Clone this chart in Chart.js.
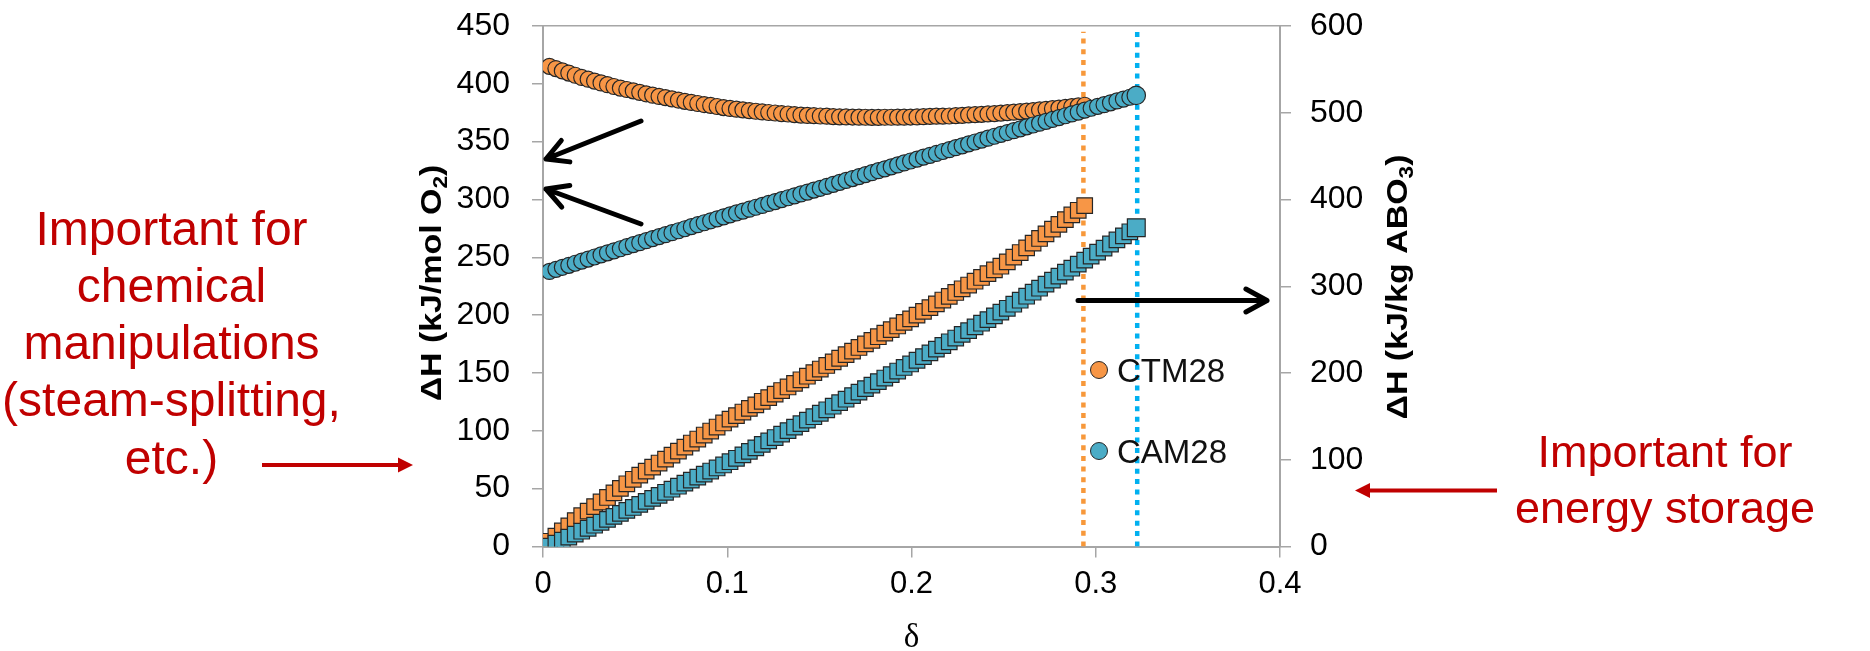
<!DOCTYPE html>
<html>
<head>
<meta charset="utf-8">
<script src="https://cdn.jsdelivr.net/npm/chart.js@4.4.1/dist/chart.umd.min.js"></script>
<style>
  html, body { margin: 0; padding: 0; background: #fff; }
  #wrap { position: relative; width: 1870px; height: 651px; }
</style>
</head>
<body>
<div id="wrap"><canvas id="chart"></canvas></div>
<script>
// oxygen non-stoichiometry (delta) at each measured point
const delta = [
  0.0035, 0.007, 0.0105, 0.014, 0.0175, 0.021, 0.0245, 0.028, 0.0315, 0.035,
  0.0385, 0.042, 0.0455, 0.049, 0.0525, 0.056, 0.0595, 0.063, 0.0665, 0.07,
  0.0735, 0.077, 0.0805, 0.084, 0.0875, 0.091, 0.0945, 0.098, 0.1015, 0.105,
  0.1085, 0.112, 0.1155, 0.119, 0.1225, 0.126, 0.1295, 0.133, 0.1365, 0.14,
  0.1435, 0.147, 0.1505, 0.154, 0.1575, 0.161, 0.1645, 0.168, 0.1715, 0.175,
  0.1785, 0.182, 0.1855, 0.189, 0.1925, 0.196, 0.1995, 0.203, 0.2065, 0.21,
  0.2135, 0.217, 0.2205, 0.224, 0.2275, 0.231, 0.2345, 0.238, 0.2415, 0.245,
  0.2485, 0.252, 0.2555, 0.259, 0.2625, 0.266, 0.2695, 0.273, 0.2765, 0.28,
  0.2835, 0.287, 0.2905, 0.294, 0.2975, 0.301, 0.3045, 0.308, 0.3115, 0.315,
  0.3185, 0.322
];

// dH in kJ/mol O2 (left axis, circles)
const ctmMolO2 = [
  415.1, 413.2, 411.2, 409.3, 407.4, 405.5, 404.0, 402.4, 400.8, 399.3,
  397.7, 396.3, 395.1, 393.9, 392.6, 391.4, 390.2, 389.1, 388.1, 387.0,
  386.0, 384.9, 383.9, 383.0, 382.1, 381.3, 380.4, 379.5, 378.7, 378.1,
  377.5, 376.9, 376.3, 375.7, 375.2, 374.8, 374.3, 373.9, 373.4, 373.0,
  372.7, 372.5, 372.2, 372.0, 371.7, 371.5, 371.4, 371.3, 371.2, 371.1,
  371.0, 371.0, 371.1, 371.1, 371.2, 371.2, 371.3, 371.4, 371.6, 371.8,
  372.0, 372.1, 372.2, 372.5, 372.8, 373.1, 373.4, 373.6, 374.0, 374.3,
  374.7, 375.1, 375.5, 375.9, 376.4, 376.9, 377.4, 378.0, 378.5, 379.0,
  379.6, 380.3, 380.9, 381.5
];
const camMolO2 = [
  237.8, 239.6, 241.4, 243.1, 244.9, 246.7, 248.5, 250.3, 252.1, 253.9,
  255.6, 257.4, 259.2, 261.0, 262.7, 264.4, 266.2, 267.9, 269.6, 271.3,
  273.0, 274.7, 276.5, 278.2, 279.9, 281.6, 283.3, 285.0, 286.7, 288.4,
  290.0, 291.6, 293.3, 294.9, 296.6, 298.2, 299.9, 301.5, 303.2, 304.8,
  306.4, 308.1, 309.7, 311.4, 313.1, 314.8, 316.5, 318.1, 319.8, 321.5,
  323.2, 324.9, 326.5, 328.2, 329.9, 331.6, 333.3, 334.9, 336.6, 338.2,
  339.8, 341.5, 343.1, 344.8, 346.4, 348.1, 349.7, 351.4, 353.0, 354.7,
  356.3, 357.9, 359.5, 361.1, 362.8, 364.4, 366.0, 367.6, 369.2, 370.8,
  372.4, 374.0, 375.6, 377.2, 378.9, 380.5, 382.0, 383.6, 385.2, 386.8,
  388.4, 390.0
];

// dH in kJ/kg ABO3 (right axis, squares)
const ctmKgABO3 = [
  6.0, 11.9, 17.9, 23.8, 29.8, 35.5, 40.8, 46.0, 51.3, 56.5,
  61.8, 67.0, 72.3, 77.5, 82.3, 86.9, 91.5, 96.2, 100.8, 105.4,
  110.0, 114.6, 119.3, 123.9, 128.5, 133.1, 137.7, 142.4, 146.8, 150.9,
  155.0, 159.2, 163.3, 167.4, 171.6, 175.7, 179.8, 183.9, 188.1, 192.2,
  196.3, 200.5, 204.6, 208.7, 212.9, 217.0, 221.1, 225.2, 229.4, 233.5,
  237.6, 241.8, 245.9, 250.0, 254.2, 258.3, 262.4, 266.7, 271.1, 275.4,
  279.7, 284.1, 288.4, 292.8, 297.1, 301.4, 305.8, 310.1, 314.5, 318.8,
  323.1, 328.1, 333.5, 338.9, 344.3, 349.7, 355.1, 360.4, 365.8, 371.4,
  376.8, 382.2, 387.6, 393.0
];
const camKgABO3 = [
  0.5, 3.9, 7.3, 10.8, 14.2, 17.6, 21.0, 24.5, 27.9, 31.3,
  34.7, 38.2, 41.6, 45.0, 48.5, 52.0, 55.5, 59.0, 62.5, 66.0,
  69.5, 73.0, 76.5, 80.0, 83.5, 87.0, 90.5, 94.0, 97.7, 101.7,
  105.7, 109.7, 113.7, 117.7, 121.7, 125.6, 129.6, 133.6, 137.6, 141.6,
  145.6, 149.6, 153.6, 157.6, 161.7, 165.8, 169.8, 173.9, 177.9, 182.0,
  186.1, 190.1, 194.2, 198.2, 202.3, 206.4, 210.4, 214.7, 218.9, 223.2,
  227.5, 231.7, 236.0, 240.3, 244.6, 248.8, 253.1, 257.4, 261.6, 265.9,
  270.2, 274.6, 279.3, 283.9, 288.5, 293.1, 297.7, 302.4, 307.0, 311.6,
  316.2, 320.8, 325.5, 330.1, 334.7, 339.3, 344.0, 348.7, 353.4, 358.1,
  362.8, 367.5
];

// maximum delta for each material (dotted verticals), and their height on the left axis
const deltaMax = [0.2933, 0.3225];
const limitLineSpan = [0, 445];

const seriesNames = ['CTM28', 'CAM28'];
const xTickLabels = ['0', '0.1', '0.2', '0.3', '0.4'];

const ORANGE = '#F79646';
const TEAL = '#4BACC6';
const EDGE = '#262626';
const ORANGE_DOT = '#F7983A';
const TEAL_DOT = '#00B0F0';
const RED = '#C00000';
const AXIS = '#A6A6A6';

function pts(xs, ys) {
  return ys.map((y, i) => ({ x: xs[i], y: y }));
}

function bigLast(arr, normal, big) {
  return c => c.dataIndex === arr.length - 1 ? big : normal;
}

// arrows, notes, legend and axis titles
const notes = {
  id: 'notes',
  afterDraw(chart) {
    const ctx = chart.ctx;
    const area = chart.chartArea;

    function text(str, x, y, font, color, align, sx) {
      ctx.save();
      ctx.translate(x, y);
      ctx.scale(sx || 1, 1);
      ctx.font = font;
      ctx.fillStyle = color;
      ctx.textAlign = align || 'left';
      ctx.textBaseline = 'alphabetic';
      ctx.fillText(str, 0, 0);
      ctx.restore();
    }

    function blackArrow(x1, y1, x2, y2) {
      const a = Math.atan2(y2 - y1, x2 - x1);
      const len = 24, spread = 0.5;
      ctx.save();
      ctx.strokeStyle = '#000';
      ctx.lineWidth = 5;
      ctx.lineCap = 'round';
      ctx.lineJoin = 'round';
      ctx.beginPath();
      ctx.moveTo(x1, y1);
      ctx.lineTo(x2, y2);
      ctx.moveTo(x2 - len * Math.cos(a - spread), y2 - len * Math.sin(a - spread));
      ctx.lineTo(x2, y2);
      ctx.lineTo(x2 - len * Math.cos(a + spread), y2 - len * Math.sin(a + spread));
      ctx.stroke();
      ctx.restore();
    }

    function redArrow(x1, x2, y) {
      const dir = Math.sign(x2 - x1);
      const head = 15;
      ctx.save();
      ctx.strokeStyle = RED;
      ctx.fillStyle = RED;
      ctx.lineWidth = 4;
      ctx.beginPath();
      ctx.moveTo(x1, y);
      ctx.lineTo(x2 - dir * head, y);
      ctx.stroke();
      ctx.beginPath();
      ctx.moveTo(x2, y);
      ctx.lineTo(x2 - dir * head, y - 7.5);
      ctx.lineTo(x2 - dir * head, y + 7.5);
      ctx.closePath();
      ctx.fill();
      ctx.restore();
    }

    function vTitle(parts, bx, cy) {
      const main = 'bold 30px "Liberation Sans", Arial, sans-serif';
      const sub = 'bold 20px "Liberation Sans", Arial, sans-serif';
      ctx.save();
      ctx.translate(bx, cy);
      ctx.rotate(-Math.PI / 2);
      ctx.scale(1.13, 1);
      ctx.fillStyle = '#000';
      ctx.textBaseline = 'alphabetic';
      let total = 0;
      parts.forEach(p => { ctx.font = p.sub ? sub : main; p.w = ctx.measureText(p.t).width; total += p.w; });
      let x = -total / 2;
      parts.forEach(p => {
        ctx.font = p.sub ? sub : main;
        ctx.fillText(p.t, x, p.sub ? 6 : 0);
        x += p.w;
      });
      ctx.restore();
    }

    // black arrows to the axes
    blackArrow(641, 121, 546, 159);
    blackArrow(641, 224, 546, 189);
    blackArrow(1078, 300.5, 1267, 300.5);

    // legend
    const legendY = [370, 451];
    const legendFill = [ORANGE, TEAL];
    seriesNames.forEach((name, i) => {
      ctx.save();
      ctx.beginPath();
      ctx.arc(1099, legendY[i], 8.5, 0, Math.PI * 2);
      ctx.fillStyle = legendFill[i];
      ctx.fill();
      ctx.lineWidth = 1;
      ctx.strokeStyle = EDGE;
      ctx.stroke();
      ctx.restore();
      text(name, 1117, legendY[i] + 12, '33px "Liberation Sans", Arial, sans-serif', '#111', 'left');
    });

    // axis titles
    vTitle([{ t: '\u0394H (kJ/mol O' }, { t: '2', sub: true }, { t: ')' }], 441, 283);
    vTitle([{ t: '\u0394H (kJ/kg ABO' }, { t: '3', sub: true }, { t: ')' }], 1407, 287);
    text('\u03b4', (area.left + area.right) / 2, 647, '33px "Liberation Serif", "Times New Roman", serif', '#000', 'center');

    // red notes
    const leftNote = ['Important for', 'chemical', 'manipulations', '(steam-splitting,', 'etc.)'];
    leftNote.forEach((line, i) => {
      text(line, 171.5, 244.5 + i * 57.3, '48px "Liberation Sans", Arial, sans-serif', RED, 'center');
    });
    const rightNote = ['Important for', 'energy storage'];
    rightNote.forEach((line, i) => {
      text(line, 1665, 466.5 + i * 56.5, '45px "Liberation Sans", Arial, sans-serif', RED, 'center');
    });
    redArrow(262, 413, 465);
    redArrow(1497, 1355, 490.5);
  }
};

function fixVertical(width) {
  return s => { s.width = width; s.paddingTop = 0; s.paddingBottom = 0; };
}

const chart = new Chart(document.getElementById('chart'), {
  type: 'scatter',
  data: {
    datasets: [
      {
        label: 'CTM28 limit',
        type: 'line',
        data: [{ x: deltaMax[0], y: limitLineSpan[0] }, { x: deltaMax[0], y: limitLineSpan[1] }],
        yAxisID: 'y',
        borderColor: ORANGE_DOT,
        borderWidth: 4.5,
        borderDash: [5, 5.7],
        pointRadius: 0,
        showLine: true,
        order: 10
      },
      {
        label: 'CAM28 limit',
        type: 'line',
        data: [{ x: deltaMax[1], y: limitLineSpan[0] }, { x: deltaMax[1], y: limitLineSpan[1] }],
        yAxisID: 'y',
        borderColor: TEAL_DOT,
        borderWidth: 4.5,
        borderDash: [5, 5.4],
        pointRadius: 0,
        showLine: true,
        order: 9
      },
      {
        label: 'CTM28 kJ/kg ABO3',
        data: pts(delta, ctmKgABO3),
        yAxisID: 'y2',
        pointStyle: 'rect',
        pointRadius: 11,
        backgroundColor: ORANGE,
        borderColor: EDGE,
        borderWidth: 1.2,
        order: 4
      },
      {
        label: 'CAM28 kJ/kg ABO3',
        data: pts(delta, camKgABO3),
        yAxisID: 'y2',
        pointStyle: 'rect',
        pointRadius: bigLast(camKgABO3, 11, 12.6),
        backgroundColor: TEAL,
        borderColor: EDGE,
        borderWidth: 1.2,
        order: 3
      },
      {
        label: 'CTM28',
        data: pts(delta, ctmMolO2),
        yAxisID: 'y',
        pointStyle: 'circle',
        pointRadius: 8,
        backgroundColor: ORANGE,
        borderColor: EDGE,
        borderWidth: 1.2,
        order: 2
      },
      {
        label: 'CAM28',
        data: pts(delta, camMolO2),
        yAxisID: 'y',
        pointStyle: 'circle',
        pointRadius: bigLast(camMolO2, 8, 9.2),
        backgroundColor: TEAL,
        borderColor: EDGE,
        borderWidth: 1.2,
        order: 1
      }
    ]
  },
  options: {
    responsive: true,
    maintainAspectRatio: false,
    animation: false,
    events: [],
    layout: { padding: { top: 26, left: 0, right: 0, bottom: 0 } },
    plugins: {
      legend: { display: false },
      tooltip: { enabled: false }
    },
    scales: {
      x: {
        type: 'linear',
        min: 0,
        max: 0.4,
        afterFit: s => { s.height = 104.5; s.paddingLeft = 0; s.paddingRight = 0; },
        border: { color: AXIS, width: 2 },
        grid: { drawOnChartArea: false, tickLength: 11, color: AXIS, lineWidth: 1.5 },
        ticks: {
          stepSize: 0.1,
          padding: 8,
          color: '#000',
          font: { family: '"Liberation Sans", Arial, sans-serif', size: 31 },
          callback: v => xTickLabels[Math.round(v * 10)]
        }
      },
      y: {
        position: 'left',
        min: 0,
        max: 450,
        afterFit: fixVertical(543),
        border: { color: AXIS, width: 2 },
        grid: {
          drawOnChartArea: true,
          tickLength: 11,
          lineWidth: 1.5,
          color: c => (c.tick && c.tick.value === 450 ? AXIS : 'rgba(0,0,0,0)'),
          tickColor: AXIS
        },
        ticks: {
          stepSize: 50,
          padding: 22,
          color: '#000',
          font: { family: '"Liberation Sans", Arial, sans-serif', size: 32 }
        }
      },
      y2: {
        position: 'right',
        min: 0,
        max: 600,
        afterFit: fixVertical(590),
        border: { color: AXIS, width: 2 },
        grid: { drawOnChartArea: false, tickLength: 11, lineWidth: 1.5, color: AXIS },
        ticks: {
          stepSize: 100,
          padding: 19,
          color: '#000',
          font: { family: '"Liberation Sans", Arial, sans-serif', size: 32 }
        }
      }
    }
  },
  plugins: [notes]
});
</script>
</body>
</html>
